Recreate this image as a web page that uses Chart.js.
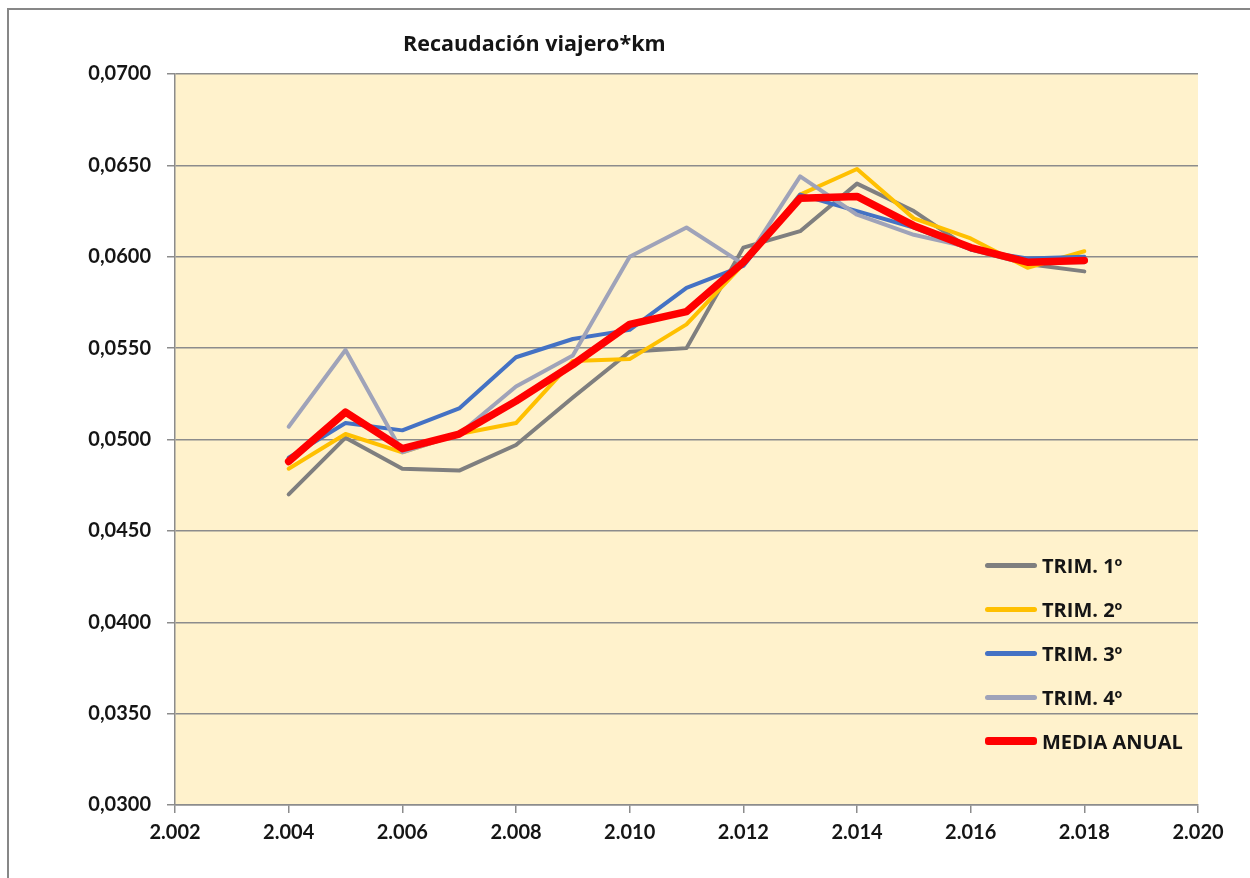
<!DOCTYPE html>
<html>
<head>
<meta charset="utf-8">
<script src="https://cdn.jsdelivr.net/npm/chart.js@4/dist/chart.umd.min.js"></script>
<style>
  html, body { margin: 0; padding: 0; background: #ffffff; overflow: hidden; }
  #wrap { position: relative; width: 1250px; height: 878px; }
  #frame { position: absolute; left: 7px; top: 8px; width: 1300px; height: 1000px; border: 2.5px solid #878787; box-sizing: border-box; pointer-events: none; }
  canvas { position: absolute; left: 0; top: 0; }
  #legend { position: absolute; left: 985px; top: 544px; font-family: "Open Sans", Lato, sans-serif; font-weight: bold; font-size: 20px; color: #151515; }
  .row { display: flex; align-items: center; height: 43.8px; }
  .swatch { width: 52px; border-radius: 3px; margin-right: 5px; }
</style>
</head>
<body>
<div id="wrap">
  <canvas id="c" width="1250" height="878"></canvas>
  <div id="frame"></div>
  <div id="legend"></div>
</div>
<script>
const chartTitle = "Recaudación viajero*km";
const years = [2004, 2005, 2006, 2007, 2008, 2009, 2010, 2011, 2012, 2013, 2014, 2015, 2016, 2017, 2018];
const seriesNames = ["TRIM. 1º", "TRIM. 2º", "TRIM. 3º", "TRIM. 4º", "MEDIA ANUAL"];
const trim1 = [0.0470, 0.0501, 0.0484, 0.0483, 0.0497, 0.0523, 0.0548, 0.0550, 0.0605, 0.0614, 0.0640, 0.0625, 0.0604, 0.0596, 0.0592];
const trim2 = [0.0484, 0.0503, 0.0493, 0.0503, 0.0509, 0.0543, 0.0544, 0.0563, 0.0596, 0.0634, 0.0648, 0.0621, 0.0610, 0.0594, 0.0603];
const trim3 = [0.0490, 0.0509, 0.0505, 0.0517, 0.0545, 0.0555, 0.0560, 0.0583, 0.0595, 0.0634, 0.0625, 0.0616, 0.0604, 0.0599, 0.0600];
const trim4 = [0.0507, 0.0549, 0.0493, 0.0503, 0.0529, 0.0546, 0.0600, 0.0616, 0.0596, 0.0644, 0.0623, 0.0612, 0.0605, 0.0597, 0.0597];
const media = [0.0488, 0.0515, 0.0495, 0.0503, 0.0521, 0.0541, 0.0563, 0.0570, 0.0597, 0.0632, 0.0633, 0.0617, 0.0605, 0.0597, 0.0598];
const xTickValues = [2002, 2004, 2006, 2008, 2010, 2012, 2014, 2016, 2018, 2020];
const xTickLabels = ["2.002", "2.004", "2.006", "2.008", "2.010", "2.012", "2.014", "2.016", "2.018", "2.020"];
const yTickValues = [0.030, 0.035, 0.040, 0.045, 0.050, 0.055, 0.060, 0.065, 0.070];
const yTickLabels = ["0,0300", "0,0350", "0,0400", "0,0450", "0,0500", "0,0550", "0,0600", "0,0650", "0,0700"];

const colors = ["#7f7f7f", "#ffc000", "#4472c4", "#9fa3b9", "#ff0000"];
const widths = [4, 4, 4, 4, 7.5];
const allSeries = [trim1, trim2, trim3, trim4, media];
const FONT = "Lato, 'Open Sans', sans-serif";
const TITLE_FONT = "'Open Sans', Lato, sans-serif";

function nearestLabel(vals, labels, v, eps) {
  for (let i = 0; i < vals.length; i++) if (Math.abs(vals[i] - v) < eps) return labels[i];
  return "";
}

const datasets = allSeries.map((s, i) => ({
  label: seriesNames[i],
  data: years.map((y, k) => ({ x: y, y: s[k] })),
  borderColor: colors[i],
  backgroundColor: colors[i],
  borderWidth: widths[i],
  pointRadius: 0,
  tension: 0,
  borderJoinStyle: 'round',
  borderCapStyle: 'round',
  order: i === 4 ? 0 : 5 - i
}));

const bgPlugin = {
  id: 'plotBg',
  beforeDraw(chart) {
    const { ctx, chartArea: a } = chart;
    ctx.save();
    ctx.fillStyle = '#fff2cc';
    ctx.fillRect(a.left, a.top, a.right - a.left, a.bottom - a.top);
    ctx.restore();
  }
};
const titlePlugin = {
  id: 'leftTitle',
  afterDraw(chart) {
    const { ctx, chartArea: a } = chart;
    ctx.save();
    ctx.font = "bold 21.5px " + TITLE_FONT;
    ctx.fillStyle = '#151515';
    ctx.textBaseline = 'middle';
    ctx.textAlign = 'left';
    ctx.fillText(chartTitle, a.left + 228, 45);
    ctx.restore();
  }
};

new Chart(document.getElementById('c'), {
  type: 'line',
  data: { datasets },
  plugins: [bgPlugin, titlePlugin],
  options: {
    responsive: false,
    animation: false,
    events: [],
    layout: { padding: { top: 74, right: 52, left: 0, bottom: 0 } },
    plugins: { legend: { display: false }, tooltip: { enabled: false }, title: { display: false } },
    scales: {
      x: {
        type: 'linear',
        min: 2002, max: 2020,
        afterBuildTicks(scale) { scale.ticks = xTickValues.map(v => ({ value: v })); },
        afterFit(scale) { scale.height = 73; },
        ticks: {
          callback: v => nearestLabel(xTickValues, xTickLabels, v, 0.01),
          font: { family: FONT, weight: 'bold', size: 20 },
          color: '#151515',
          padding: 8,
          maxRotation: 0,
          autoSkip: false
        },
        grid: { drawOnChartArea: false, color: '#8c8c8c', lineWidth: 1.5, tickLength: 8 },
        border: { color: '#8c8c8c', width: 1.5 }
      },
      y: {
        min: 0.03, max: 0.07,
        afterBuildTicks(scale) { scale.ticks = yTickValues.map(v => ({ value: v })); },
        afterFit(scale) { scale.width = 175; },
        ticks: {
          callback: v => nearestLabel(yTickValues, yTickLabels, v, 0.0001),
          font: { family: FONT, weight: 'bold', size: 20 },
          color: '#151515',
          padding: 16
        },
        grid: { color: '#8c8c8c', lineWidth: 1.5, tickLength: 8 },
        border: { color: '#8c8c8c', width: 1.5 }
      }
    }
  }
});

const legendEl = document.getElementById('legend');
seriesNames.forEach((name, i) => {
  const row = document.createElement('div');
  row.className = 'row';
  const sw = document.createElement('span');
  sw.className = 'swatch';
  sw.style.background = colors[i];
  sw.style.height = (i === 4 ? 8 : 5) + 'px';
  const tx = document.createElement('span');
  tx.textContent = name;
  row.appendChild(sw);
  row.appendChild(tx);
  legendEl.appendChild(row);
});
</script>
</body>
</html>
